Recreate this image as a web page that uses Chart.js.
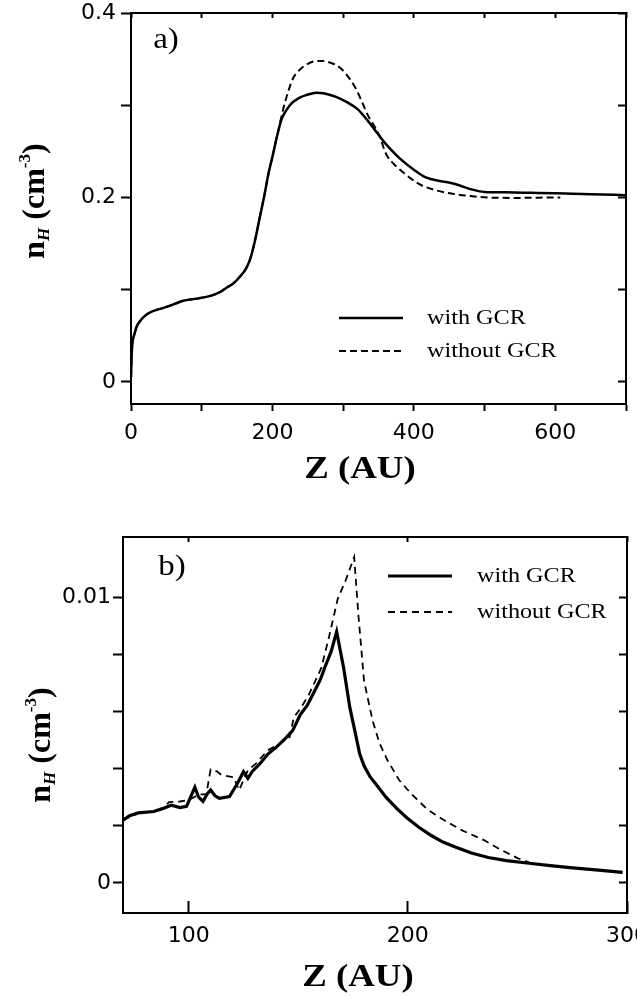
<!DOCTYPE html>
<html>
<head>
<meta charset="utf-8">
<script src="https://cdn.jsdelivr.net/npm/chart.js@4.4.0/dist/chart.umd.min.js"></script>
<style>
html, body { margin: 0; padding: 0; background: #fff; overflow: hidden; }
canvas { position: absolute; left: 0; }
#chartA { top: 0; }
#chartB { top: 500px; }
</style>
</head>
<body>
<canvas id="chartA" width="637" height="495"></canvas>
<canvas id="chartB" width="637" height="497"></canvas>
<script>
// ---- panel a) : n_H vs Z, 0..700 AU
const zWithA = [0, 1, 2, 5, 8, 14, 22, 32, 45, 60, 74, 90, 111, 125, 135, 145, 154, 162, 168, 175, 182, 188, 195, 200, 207, 213, 220, 227, 238, 248, 262, 272, 290, 306, 320, 335, 345, 353, 358, 370, 382, 400, 416, 435, 451, 465, 480, 500, 530, 566, 600, 624, 650, 700];
const nWithA = [0.005, 0.03, 0.042, 0.052, 0.06, 0.067, 0.073, 0.077, 0.080, 0.084, 0.088, 0.090, 0.093, 0.097, 0.102, 0.107, 0.114, 0.122, 0.132, 0.152, 0.178, 0.2, 0.228, 0.244, 0.268, 0.285, 0.295, 0.302, 0.308, 0.311, 0.3136, 0.313, 0.309, 0.303, 0.296, 0.283, 0.273, 0.265, 0.260, 0.250, 0.241, 0.230, 0.222, 0.218, 0.216, 0.213, 0.209, 0.206, 0.2055, 0.205, 0.2045, 0.204, 0.2035, 0.2025];
const zWithoutA = [0, 1, 2, 5, 8, 14, 22, 32, 45, 60, 74, 90, 111, 125, 135, 145, 154, 162, 168, 175, 182, 188, 195, 200, 207, 215, 222, 229, 238, 248, 264, 272, 282, 295, 305, 318, 327, 335, 345, 353, 358, 363, 372, 382, 395, 410, 430, 451, 480, 509, 550, 601, 607];
const nWithoutA = [0.005, 0.03, 0.042, 0.052, 0.06, 0.067, 0.073, 0.077, 0.080, 0.084, 0.088, 0.090, 0.093, 0.097, 0.102, 0.107, 0.114, 0.122, 0.132, 0.152, 0.178, 0.2, 0.228, 0.244, 0.268, 0.295, 0.314, 0.329, 0.338, 0.344, 0.348, 0.348, 0.346, 0.341, 0.333, 0.318, 0.303, 0.289, 0.276, 0.264, 0.252, 0.244, 0.236, 0.229, 0.221, 0.2135, 0.208, 0.2045, 0.2015, 0.1998, 0.1995, 0.2, 0.2];
const zTicksA = [0, 100, 200, 300, 400, 500, 600, 700];
const zLabelsA = ['0', '', '200', '', '400', '', '600', ''];
const nTicksA = [0, 0.1, 0.2, 0.3, 0.4];
const nLabelsA = ['0', '', '0.2', '', '0.4'];

// ---- panel b) : zoom on 70..300 AU
const zWithB = [70, 73, 77, 84, 88, 92, 96, 99, 102.8, 104.5, 106.5, 108.5, 110, 112, 114, 118.6, 122, 125, 127, 129, 132.6, 136, 140, 144, 147.4, 151, 154, 156.7, 160, 162, 165, 167.5, 170.7, 173.5, 176, 178, 180, 182.8, 186, 190, 195, 199.5, 205, 210.7, 216, 221.9, 229, 236.7, 245, 255.3, 265, 274, 287, 298];
const nWithB = [0.0022, 0.00235, 0.00245, 0.0025, 0.0026, 0.00272, 0.00264, 0.00268, 0.00335, 0.003, 0.00285, 0.00312, 0.00325, 0.00305, 0.00296, 0.00302, 0.00345, 0.00389, 0.00366, 0.0039, 0.00418, 0.0045, 0.00475, 0.00505, 0.00533, 0.0059, 0.0062, 0.0066, 0.0071, 0.00752, 0.0081, 0.00879, 0.00752, 0.00614, 0.00525, 0.00452, 0.0041, 0.00371, 0.0034, 0.003, 0.0026, 0.00228, 0.00195, 0.00166, 0.00143, 0.00125, 0.00105, 0.00089, 0.00078, 0.00069, 0.00061, 0.00054, 0.00045, 0.00037];
const zWithoutB = [70, 77, 84, 88, 91, 96, 100, 104.7, 108, 110, 113, 115, 120.5, 123, 125, 127, 131, 136, 140, 143.7, 146, 148, 151, 154.9, 160.5, 164, 168, 171.6, 175.5, 177.5, 180, 183.9, 187, 190.7, 196, 201.4, 208.8, 216.4, 225, 234.7, 242, 250, 255.3];
const nWithoutB = [0.0022, 0.00245, 0.0025, 0.0026, 0.00283, 0.00285, 0.0029, 0.0031, 0.0031, 0.00397, 0.0039, 0.00377, 0.0037, 0.00325, 0.0036, 0.00394, 0.0042, 0.00464, 0.0048, 0.00498, 0.0051, 0.0058, 0.0061, 0.0066, 0.00752, 0.0086, 0.00994, 0.01058, 0.0114, 0.0093, 0.00707, 0.00568, 0.0049, 0.00429, 0.0036, 0.00313, 0.00258, 0.0022, 0.00183, 0.0015, 0.00118, 0.00087, 0.00072];
const zTicksB = [100, 200, 300];
const zLabelsB = ['100', '200', '300'];
const nTicksB = [0, 0.002, 0.004, 0.006, 0.008, 0.01];
const nLabelsB = ['0', '', '', '', '', '0.01'];

const seriesNames = ['with GCR', 'without GCR'];
const xTitle = 'Z (AU)';

const serif = '"Liberation Serif", "Times New Roman", serif';
const sans = '"DejaVu Sans", sans-serif';

function pts(xs, ys) {
  return xs.map((x, i) => ({ x: x, y: ys[i] }));
}

function stretchText(ctx, t, x, y, sx) {
  ctx.save();
  ctx.translate(x, y);
  ctx.scale(sx, 1);
  ctx.fillText(t, 0, 0);
  ctx.restore();
}

// letter, axis titles and the little legend in the corner
const decor = {
  id: 'decor',
  afterDraw(chart, args, o) {
    const ctx = chart.ctx;
    ctx.save();
    ctx.fillStyle = '#000';
    ctx.strokeStyle = '#000';
    ctx.textAlign = 'center';
    ctx.textBaseline = 'middle';

    ctx.font = '30px ' + serif;
    stretchText(ctx, o.letter, o.letterX, o.letterY, 1.1);

    ctx.font = 'bold 32px ' + serif;
    stretchText(ctx, xTitle, o.xTitleX, o.xTitleY, 1.15);

    // n_H (cm^-3), rotated
    const parts = [
      { t: 'n', f: 'bold 32px ' + serif, dy: 0 },
      { t: 'H', f: 'italic bold 17px ' + serif, dy: 5 },
      { t: ' (cm', f: 'bold 32px ' + serif, dy: 0 },
      { t: '-3', f: 'bold 17px ' + serif, dy: -14 },
      { t: ')', f: 'bold 32px ' + serif, dy: 0 }
    ];
    let total = 0;
    parts.forEach(p => { ctx.font = p.f; p.w = ctx.measureText(p.t).width; total += p.w; });
    ctx.save();
    ctx.translate(o.yTitleX, o.yTitleY);
    ctx.rotate(-Math.PI / 2);
    ctx.textAlign = 'left';
    ctx.textBaseline = 'alphabetic';
    let px = -total / 2;
    parts.forEach(p => { ctx.font = p.f; ctx.fillText(p.t, px, p.dy); px += p.w; });
    ctx.restore();

    // legend
    ctx.textAlign = 'left';
    ctx.font = '22px ' + serif;
    chart.data.datasets.forEach((ds, i) => {
      const y = o.legendY + i * o.legendGap;
      ctx.save();
      ctx.lineWidth = ds.borderWidth;
      ctx.setLineDash(ds.borderDash || []);
      ctx.beginPath();
      ctx.moveTo(o.legendX, y);
      ctx.lineTo(o.legendX + o.legendLen, y);
      ctx.stroke();
      ctx.restore();
      stretchText(ctx, ds.label, o.legendX + o.legendLen + o.legendText, y, 1.1);
    });
    ctx.restore();
  }
};

function axis(pos, min, max, ticks, labels, size, tick, pad) {
  return {
    type: 'linear',
    position: pos,
    min: min,
    max: max,
    afterBuildTicks: s => { s.ticks = ticks.map(v => ({ value: v })); },
    afterFit: s => {
      if (s.isHorizontal()) s.height = size; else s.width = size;
      s.paddingLeft = 0; s.paddingRight = 0; s.paddingTop = 0; s.paddingBottom = 0;
    },
    grid: { display: true, drawOnChartArea: false, drawTicks: true, tickLength: tick, tickWidth: 2, tickColor: '#000' },
    border: { display: true, color: '#000', width: 2 },
    ticks: {
      display: !!labels,
      autoSkip: false,
      maxRotation: 0,
      padding: pad || 0,
      color: '#000',
      font: { family: sans, size: 22 },
      callback: (v, i) => labels ? labels[i] : ''
    }
  };
}

function makeChart(id, sets, opts) {
  return new Chart(document.getElementById(id), {
    type: 'line',
    data: { datasets: sets },
    options: {
      responsive: false,
      animation: false,
      layout: { padding: opts.padding },
      elements: { point: { radius: 0 } },
      scales: opts.scales,
      plugins: { legend: { display: false }, tooltip: { enabled: false }, decor: opts.decor }
    },
    plugins: [decor]
  });
}

makeChart('chartA', [
  { label: seriesNames[0], data: pts(zWithA, nWithA), borderColor: '#000', borderWidth: 2.5, cubicInterpolationMode: 'monotone', fill: false },
  { label: seriesNames[1], data: pts(zWithoutA, nWithoutA), borderColor: '#000', borderWidth: 2, borderDash: [7, 4], cubicInterpolationMode: 'monotone', fill: false }
], {
  padding: { left: 0, right: 11, top: 13, bottom: 0 },
  scales: {
    x: axis('bottom', 0, 700, zTicksA, zLabelsA, 91, 7, 9),
    x2: axis('top', 0, 700, zTicksA, null, 0, -5),
    y: axis('left', -0.024, 0.4, nTicksA, nLabelsA, 131, 10, 5),
    y2: axis('right', -0.024, 0.4, nTicksA, null, 0, -8)
  },
  decor: { letter: 'a)', letterX: 166, letterY: 40, xTitleX: 360, xTitleY: 470, yTitleX: 44, yTitleY: 201,
           legendX: 339, legendY: 318, legendGap: 33, legendLen: 64, legendText: 24 }
});

makeChart('chartB', [
  { label: seriesNames[0], data: pts(zWithB, nWithB), borderColor: '#000', borderWidth: 3.2, tension: 0, fill: false },
  { label: seriesNames[1], data: pts(zWithoutB, nWithoutB), borderColor: '#000', borderWidth: 1.8, borderDash: [7, 5], tension: 0, fill: false }
], {
  padding: { left: 0, right: 10, top: 37, bottom: 0 },
  scales: {
    x: axis('bottom', 70, 300, zTicksB, zLabelsB, 84, -12, 22),
    x2: axis('top', 70, 300, zTicksB, null, 0, -5),
    y: axis('left', -0.00105, 0.0121, nTicksB, nLabelsB, 123, 10, 2),
    y2: axis('right', -0.00105, 0.0121, nTicksB, null, 0, -8)
  },
  decor: { letter: 'b)', letterX: 172, letterY: 67, xTitleX: 358, xTitleY: 478, yTitleX: 50, yTitleY: 245,
           legendX: 388, legendY: 76, legendGap: 36, legendLen: 64, legendText: 25 }
});
</script>
</body>
</html>
